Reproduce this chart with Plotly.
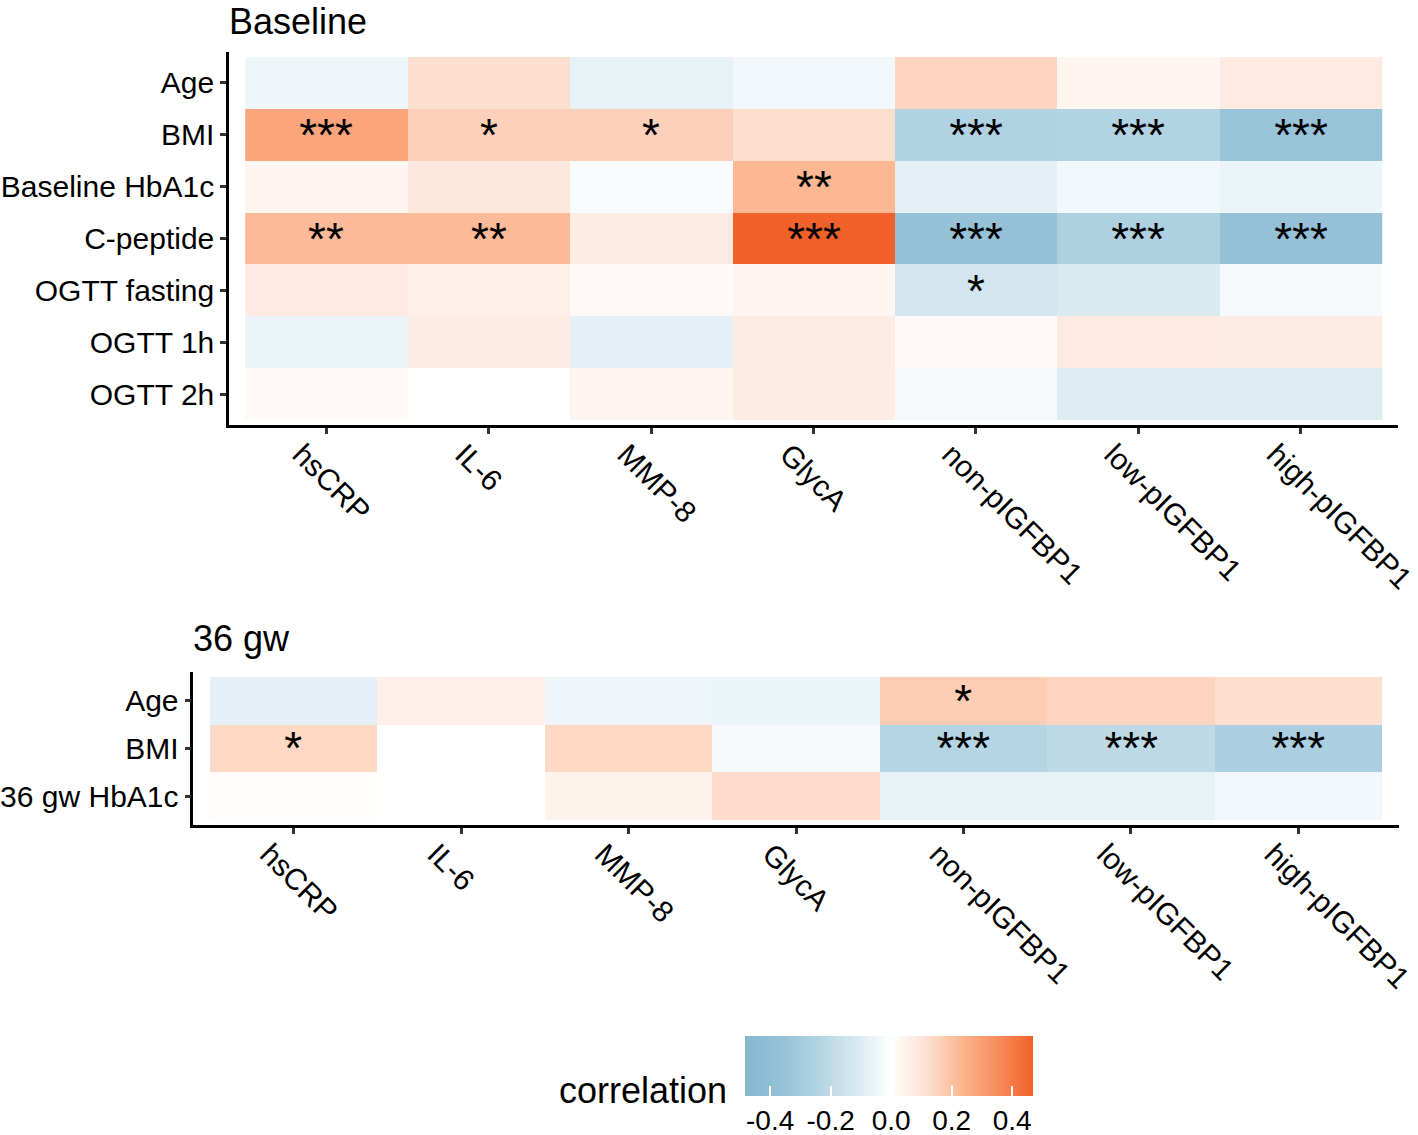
import plotly.graph_objects as go

W, H = 1418, 1135

markers = ["hsCRP", "IL-6", "MMP-8", "GlycA", "non-pIGFBP1", "low-pIGFBP1", "high-pIGFBP1"]

base_rows = ["Age", "BMI", "Baseline HbA1c", "C-peptide", "OGTT fasting", "OGTT 1h", "OGTT 2h"]
base_vals = [
    [-0.05, 0.12, -0.07, -0.04, 0.15, 0.04, 0.08],
    [0.28, 0.16, 0.16, 0.12, -0.25, -0.24, -0.35],
    [0.04, 0.09, -0.02, 0.23, -0.08, -0.04, -0.06],
    [0.22, 0.22, 0.07, 0.47, -0.36, -0.26, -0.37],
    [0.08, 0.06, 0.02, 0.04, -0.13, -0.11, -0.03],
    [-0.06, 0.07, -0.08, 0.07, 0.02, 0.08, 0.07],
    [0.02, 0.00, 0.04, 0.07, -0.03, -0.10, -0.10],
]
base_sig = [
    ["", "", "", "", "", "", ""],
    ["***", "*", "*", "", "***", "***", "***"],
    ["", "", "", "**", "", "", ""],
    ["**", "**", "", "***", "***", "***", "***"],
    ["", "", "", "", "*", "", ""],
    ["", "", "", "", "", "", ""],
    ["", "", "", "", "", "", ""],
]

gw_rows = ["Age", "BMI", "36 gw HbA1c"]
gw_vals = [
    [-0.08, 0.06, -0.05, -0.06, 0.17, 0.15, 0.12],
    [0.14, 0.00, 0.14, -0.03, -0.23, -0.20, -0.27],
    [0.01, 0.00, 0.05, 0.13, -0.07, -0.07, -0.04],
]
gw_sig = [
    ["", "", "", "", "*", "", ""],
    ["*", "", "", "", "***", "***", "***"],
    ["", "", "", "", "", "", ""],
]

cbar_ticks = [-0.4, -0.2, 0.0, 0.2, 0.4]
cbar_labels = ["-0.4", "-0.2", "0.0", "0.2", "0.4"]
zmin, zmax = -0.483, 0.469
mid = -zmin / (zmax - zmin)

colorscale = [
    [0.0, "#84b7cf"],
    [mid * 0.25, "#95c2d7"],
    [mid * 0.5, "#b2d3e3"],
    [mid * 0.75, "#d6e8f0"],
    [mid, "#ffffff"],
    [mid + (1 - mid) * 0.25, "#fde0d2"],
    [mid + (1 - mid) * 0.5, "#fcb590"],
    [mid + (1 - mid) * 0.75, "#f98d5c"],
    [1.0, "#f1612a"],
]

FONT = "Liberation Sans, Arial, Helvetica, sans-serif"
STAR_FONT = dict(size=46, color="black", family=FONT)

fig = go.Figure()

fig.add_trace(go.Heatmap(
    z=base_vals, x=markers, y=base_rows, text=base_sig,
    texttemplate="%{text}", textfont=STAR_FONT,
    coloraxis="coloraxis", xaxis="x", yaxis="y",
))
fig.add_trace(go.Heatmap(
    z=gw_vals, x=markers, y=gw_rows, text=gw_sig,
    texttemplate="%{text}", textfont=STAR_FONT,
    coloraxis="coloraxis", xaxis="x2", yaxis="y2",
))

def px_x(p):
    return p / W

def px_y(p):
    return 1 - p / H

axis_common = dict(
    showline=True, linecolor="black", linewidth=2.5, ticks="outside",
    ticklen=6, tickwidth=2.5, tickcolor="#333333", showgrid=False, zeroline=False,
    tickfont=dict(size=30, color="black", family=FONT), fixedrange=True,
    automargin=False,
)
xtick_extra = dict(tickangle=45, ticklabelshift=-25, ticklabelstandoff=-9)

# colorbar geometry
CB_X0, CB_W, CB_Y0, CB_H = 745, 288, 1036, 60

fig.update_layout(
    width=W, height=H,
    margin=dict(l=0, r=0, t=0, b=0, autoexpand=False),
    paper_bgcolor="white", plot_bgcolor="white",
    font=dict(family=FONT, color="black"),
    xaxis=dict(domain=[px_x(229), px_x(1398)], anchor="y", type="category",
               categoryorder="array", categoryarray=markers, range=[-0.6, 6.6],
               **xtick_extra, **axis_common),
    yaxis=dict(domain=[px_y(425.2), px_y(51.8)], anchor="x", type="category",
               categoryorder="array", categoryarray=base_rows, range=[6.6, -0.6],
               **axis_common),
    xaxis2=dict(domain=[px_x(193.3), px_x(1398.7)], anchor="y2", type="category",
                categoryorder="array", categoryarray=markers, range=[-0.6, 6.6],
                **xtick_extra, **axis_common),
    yaxis2=dict(domain=[px_y(824.8), px_y(672.2)], anchor="x2", type="category",
                categoryorder="array", categoryarray=gw_rows, range=[2.6, -0.6],
                **axis_common),
    coloraxis=dict(
        cmin=zmin, cmax=zmax, colorscale=colorscale,
        colorbar=dict(
            orientation="h", lenmode="pixels", len=CB_W, thicknessmode="pixels", thickness=CB_H,
            x=px_x(CB_X0), xanchor="left", y=px_y(CB_Y0), yanchor="top",
            tickvals=cbar_ticks, ticktext=cbar_labels,
            ticks="inside", ticklen=10, tickwidth=2, tickcolor="white",
            outlinewidth=0,
            tickfont=dict(size=28, color="black", family=FONT),
            xpad=0, ypad=0,
        ),
    ),
    annotations=[
        dict(text="Baseline", x=px_x(228), y=1.0, xref="paper", yref="paper",
             xanchor="left", yanchor="top", showarrow=False, borderpad=0,
             font=dict(size=36, color="black", family=FONT)),
        dict(text="36 gw", x=px_x(191), y=px_y(638), xref="paper", yref="paper",
             xanchor="left", yanchor="middle", showarrow=False,
             font=dict(size=36, color="black", family=FONT)),
        dict(text="correlation", x=px_x(729), y=px_y(1090), xref="paper", yref="paper",
             xanchor="right", yanchor="middle", showarrow=False,
             font=dict(size=36, color="black", family=FONT)),
    ],
)

fig.write_html("out.html", config={"displayModeBar": False},
               post_script="document.body.style.margin='0px';document.body.style.overflow='hidden';")
